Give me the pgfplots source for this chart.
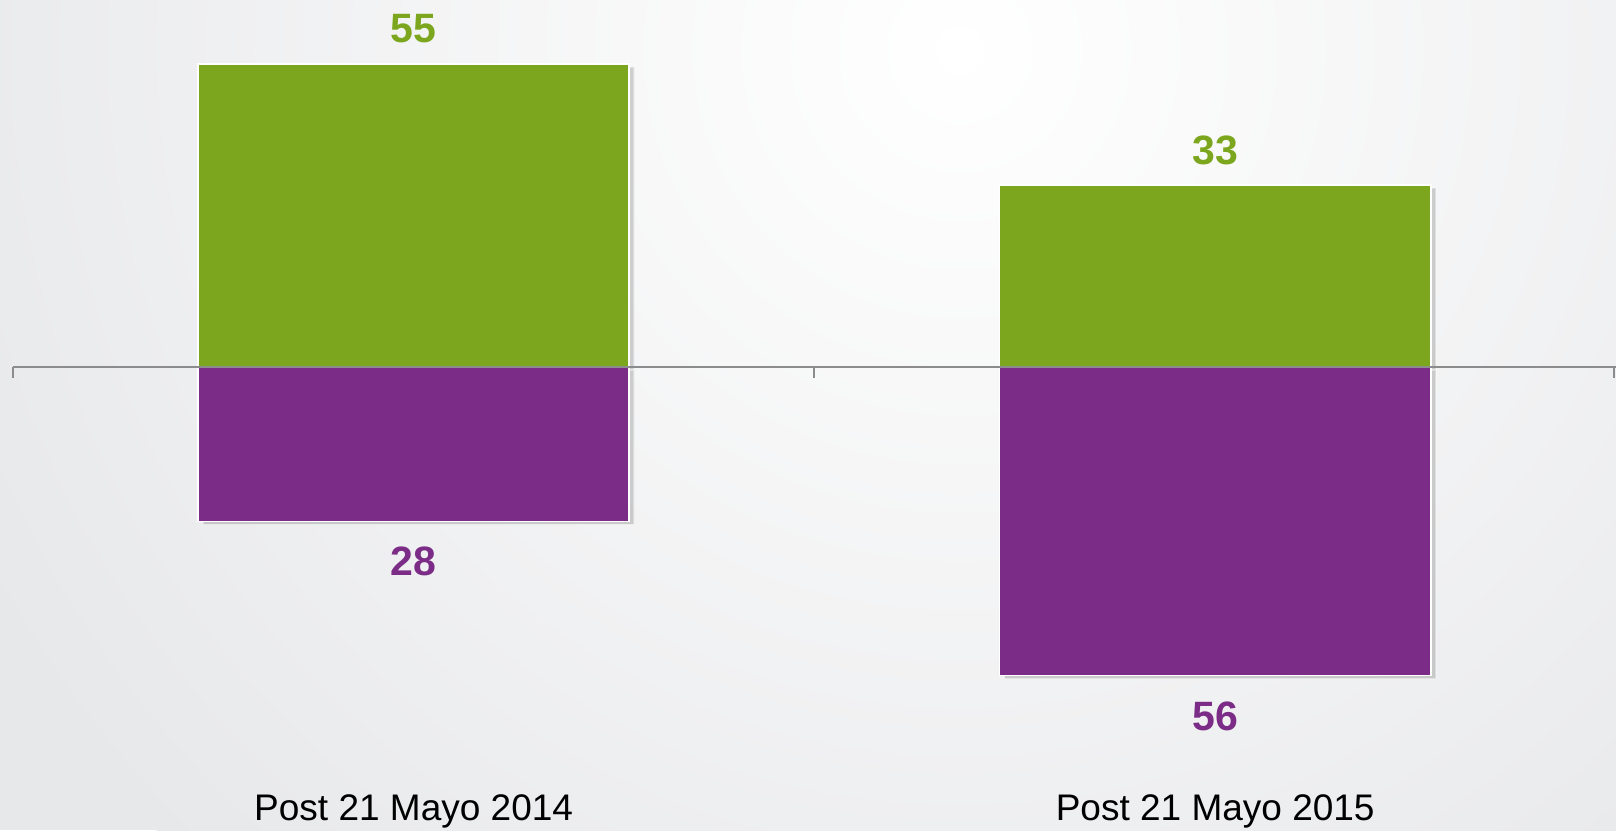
\documentclass[border=0pt]{standalone}
\usepackage{pgfplots}
\pgfplotsset{compat=1.18}
\usepackage{fontspec}
\setmainfont{Liberation Sans}
\usetikzlibrary{shadows}
\definecolor{bggray}{RGB}{231,232,234}
\definecolor{mygreen}{RGB}{123,166,30}
\definecolor{mypurple}{RGB}{123,44,135}
\definecolor{axgray}{RGB}{140,140,140}
\begin{document}
\begin{tikzpicture}
\useasboundingbox (0,0) rectangle (808pt,415pt);
\fill[bggray] (0,0) rectangle (808pt,415pt);
\begin{scope}
\clip (0,0) rectangle (808pt,415pt);
\shade[inner color=white, outer color=bggray] (480pt,390pt) circle (560pt);
\end{scope}
\begin{axis}[
  at={(0,0)}, anchor=south west,
  scale only axis, width=808pt, height=415pt,
  xmin=-0.516, xmax=1.5, ymin=-84, ymax=66.6,
  axis lines=none,
  ybar=0pt, bar width=0.538,
  clip=false,
  point meta=explicit,
  nodes near coords,
  /pgf/number format/assume math mode=true,
  every node near coord/.append style={font=\fontsize{20.5pt}{22pt}\selectfont\bfseries, inner sep=0pt},
]
\addplot[fill=mygreen, draw=white, line width=0.8pt, bar shift=0pt,
  drop shadow={shadow xshift=2.5pt, shadow yshift=-1.5pt, opacity=0.35},
  every node near coord/.append style={text=mygreen, anchor=base, yshift=10.5pt}]
  coordinates {(0,55) [55] (1,33) [33]};
\addplot[fill=mypurple, draw=white, line width=0.8pt, bar shift=0pt,
  drop shadow={shadow xshift=2.5pt, shadow yshift=-1.5pt, opacity=0.35},
  every node near coord/.append style={text=mypurple, anchor=north, yshift=-12.5pt}]
  coordinates {(0,-28) [28] (1,-56) [56]};
\draw[axgray, line width=1pt] (axis cs:-0.5,0) -- (axis cs:1.5,0);
\draw[axgray, line width=1pt] (axis cs:-0.5,0) -- (axis cs:-0.5,-1.9);
\draw[axgray, line width=1pt] (axis cs:0.5,0) -- (axis cs:0.5,-1.9);
\draw[axgray, line width=1pt] (axis cs:1.497,0) -- (axis cs:1.497,-1.9);
\node[anchor=base, inner sep=0pt, font=\fontsize{18.5pt}{20pt}\selectfont] at (axis cs:0,-82.2) {Post 21 Mayo 2014};
\node[anchor=base, inner sep=0pt, font=\fontsize{18.5pt}{20pt}\selectfont] at (axis cs:1,-82.2) {Post 21 Mayo 2015};
\end{axis}
\end{tikzpicture}
\end{document}
